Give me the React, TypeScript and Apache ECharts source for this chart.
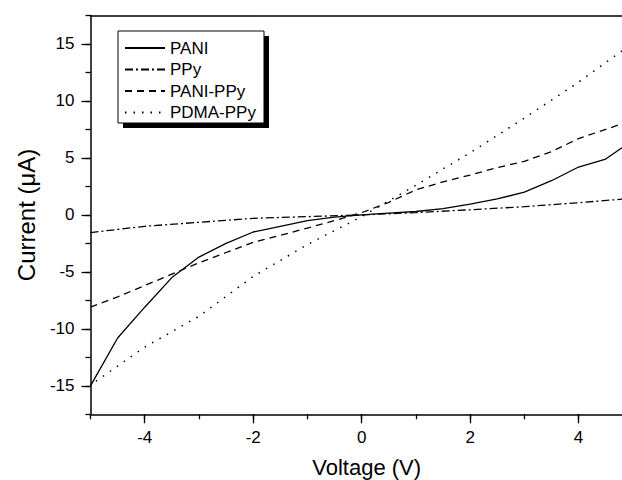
import React, { useEffect, useRef } from "react";
import * as echarts from "echarts";

const paniV = [-5, -4.5, -4, -3.5, -3, -2.5, -2, -1.5, -1, -0.5, 0, 0.5, 1, 1.5, 2, 2.5, 3, 3.5, 4, 4.5, 4.8];
const paniI = [-15, -10.8, -8.1, -5.5, -3.7, -2.5, -1.5, -1.0, -0.5, -0.2, 0, 0.15, 0.3, 0.55, 0.95, 1.4, 2.0, 3.0, 4.2, 4.9, 5.9];

const ppyV = [-5, -4, -3, -2, -1, 0, 1, 2, 3, 4, 4.8];
const ppyI = [-1.55, -1.0, -0.65, -0.3, -0.15, 0, 0.2, 0.45, 0.72, 1.07, 1.38];

const paniPpyV = [-5, -4.5, -4, -3.5, -3, -2.5, -2, -1.5, -1, -0.5, 0, 0.5, 1, 1.5, 2, 2.5, 3, 3.5, 4, 4.5, 4.8];
const paniPpyI = [-8.1, -7.2, -6.2, -5.2, -4.2, -3.3, -2.4, -1.8, -1.15, -0.5, 0.2, 1.1, 2.2, 2.9, 3.5, 4.15, 4.7, 5.55, 6.7, 7.5, 8.0];

const pdmaV = [-4.9, -4, -3, -2, -1, 0, 1, 2, 3, 4, 4.8];
const pdmaI = [-14.6, -11.6, -8.9, -5.4, -2.6, -0.15, 2.6, 5.45, 8.5, 11.65, 14.4];

const seriesNames = ["PANI", "PPy", "PANI-PPy", "PDMA-PPy"];
const xMajorTicks = [-4, -2, 0, 2, 4];
const yMajorTicks = [-15, -10, -5, 0, 5, 10, 15];

const FONT = "'Liberation Sans', Arial, Helvetica, sans-serif";

function pairs(xs: number[], ys: number[]) {
  return xs.map((x, i) => [x, ys[i]]);
}

export default function App() {
  const ref = useRef<HTMLDivElement>(null);
  useEffect(() => {
    if (!ref.current) return;
    const chart = echarts.init(ref.current, undefined, { renderer: "svg" });
    const W = 542.3;
    const H = 398.8;
    const pxX = W / 10; // px per volt
    const pxY = H / 35; // px per µA
    const axisLine = { show: true, lineStyle: { color: "#000", width: 1.5 } };
    const lineBase = { color: "#000", width: 1.3, cap: "butt" as const };
    chart.setOption({
      animation: false,
      backgroundColor: "#fff",
      grid: [
        { left: 90.5, top: 15.5, width: W, height: H, outerBoundsMode: "none", containLabel: false },
        {
          left: 90.5 + pxX, top: 15.5 + 2.5 * pxY, width: W - pxX, height: H - 5 * pxY,
          outerBoundsMode: "none", containLabel: false,
        },
      ],
      xAxis: [
        {
          type: "value", gridIndex: 0, min: -5, max: 5, interval: 1,
          axisLine: { ...axisLine, onZero: false },
          axisTick: { show: true, inside: false, length: 5, lineStyle: { color: "#000", width: 1.3 } },
          axisLabel: { show: false }, splitLine: { show: false },
          name: "Voltage (V)", nameLocation: "middle", nameGap: 42,
          nameTextStyle: { fontFamily: FONT, fontSize: 22, color: "#000", padding: [0, 0, 0, 10] },
        },
        {
          type: "value", gridIndex: 0, position: "top", min: -5, max: 5, interval: 1,
          axisLine: { ...axisLine, onZero: false },
          axisTick: { show: false }, axisLabel: { show: false }, splitLine: { show: false },
        },
        {
          type: "value", gridIndex: 1, min: -4, max: 5, interval: 2, offset: 2.5 * pxY,
          axisLine: { show: false, onZero: false },
          axisTick: { show: true, inside: false, length: 9, lineStyle: { color: "#000", width: 1.3 } },
          axisLabel: {
            show: true, margin: 15, color: "#000", fontFamily: FONT, fontSize: 17,
            formatter: (v: number) => (xMajorTicks.includes(v) ? String(v) : ""),
          },
          splitLine: { show: false },
        },
      ],
      yAxis: [
        {
          type: "value", gridIndex: 0, min: -17.5, max: 17.5, interval: 2.5,
          axisLine: { ...axisLine, onZero: false },
          axisTick: { show: true, inside: false, length: 5, lineStyle: { color: "#000", width: 1.3 } },
          axisLabel: { show: false }, splitLine: { show: false },
          name: "Current (\u03bcA)", nameLocation: "middle", nameGap: 52,
          nameTextStyle: { fontFamily: FONT, fontSize: 24, color: "#000" },
        },
        {
          type: "value", gridIndex: 1, min: -15, max: 15, interval: 5, offset: pxX,
          axisLine: { show: false, onZero: false },
          axisTick: { show: true, inside: false, length: 9, lineStyle: { color: "#000", width: 1.3 } },
          axisLabel: {
            show: true, margin: 16, color: "#000", fontFamily: FONT, fontSize: 17,
            formatter: (v: number) => (yMajorTicks.includes(v) ? String(v) : ""),
          },
          splitLine: { show: false },
        },
      ],
      legend: {
        show: true, orient: "vertical", left: 124, top: 39.5, padding: 0,
        itemWidth: 40, itemHeight: 14, itemGap: 4.5, z: 20,
        itemStyle: { opacity: 0 },
        textStyle: { fontFamily: FONT, fontSize: 17, color: "#000", lineHeight: 14 },
        data: seriesNames,
      },
      graphic: [
        { type: "rect", z: 10, shape: { x: 123, y: 36, width: 146, height: 92 }, style: { fill: "#000" } },
        { type: "rect", z: 11, shape: { x: 118, y: 31, width: 146, height: 92 }, style: { fill: "#fff", stroke: "#000", lineWidth: 1 } },
      ],
      series: [
        {
          name: seriesNames[0], type: "line", xAxisIndex: 0, yAxisIndex: 0, symbol: "none",
          itemStyle: { color: "#000" },
          data: pairs(paniV, paniI), lineStyle: { ...lineBase, type: "solid" },
        },
        {
          name: seriesNames[1], type: "line", xAxisIndex: 0, yAxisIndex: 0, symbol: "none",
          itemStyle: { color: "#000" },
          data: pairs(ppyV, ppyI), lineStyle: { ...lineBase, type: [8, 3, 2, 3] },
        },
        {
          name: seriesNames[2], type: "line", xAxisIndex: 0, yAxisIndex: 0, symbol: "none",
          itemStyle: { color: "#000" },
          data: pairs(paniPpyV, paniPpyI), lineStyle: { ...lineBase, type: [7, 5] },
        },
        {
          name: seriesNames[3], type: "line", xAxisIndex: 0, yAxisIndex: 0, symbol: "none",
          itemStyle: { color: "#000" },
          data: pairs(pdmaV, pdmaI), lineStyle: { ...lineBase, width: 1.5, type: [1.5, 7] },
        },
      ],
    });
    return () => chart.dispose();
  }, []);
  return (
    <div
      ref={ref}
      style={{ position: "absolute", left: 0, top: 0, width: 622, height: 480, background: "#fff" }}
    />
  );
}
